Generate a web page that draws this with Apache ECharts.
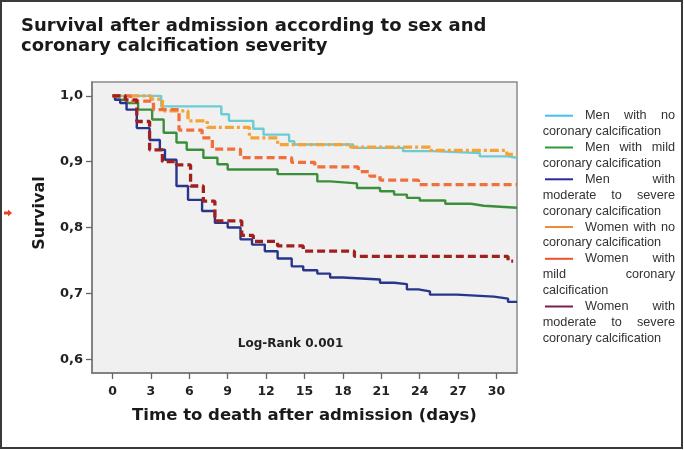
<!DOCTYPE html>
<html>
<head>
<meta charset="utf-8">
<script src="https://cdn.jsdelivr.net/npm/echarts@6/dist/echarts.min.js"></script>
<style>
  html, body { margin: 0; padding: 0; background: #fff; }
  #chart { width: 684px; height: 450px; }
</style>
</head>
<body>
<div id="chart"></div>
<script>
// Kaplan-Meier step curves (days, survival)
const menNoT = [0, 3.8, 8.5, 9.1, 11.0, 11.8, 13.8, 14.2, 18.8, 22.7, 25.0, 28.7, 30.9, 31.6]
const menNoS = [1.0, 0.984, 0.972, 0.962, 0.950, 0.941, 0.931, 0.926, 0.921, 0.916, 0.913, 0.908, 0.906, 0.906]

const menMildT = [0, 0.2, 1.1, 2.0, 3.1, 4.0, 5.0, 5.8, 7.1, 8.2, 9.0, 12.9, 16.0, 17.0, 19.1, 20.9, 22.0, 23.0, 24.0, 26.0, 28.0, 29.0, 31.6]
const menMildS = [1.0, 0.994, 0.989, 0.979, 0.964, 0.944, 0.929, 0.918, 0.906, 0.896, 0.888, 0.881, 0.870, 0.867, 0.860, 0.855, 0.850, 0.845, 0.841, 0.836, 0.833, 0.830, 0.830]

const menSevT = [0, 0.2, 0.6, 1.1, 1.9, 2.9, 3.7, 4.1, 5.0, 5.9, 7.0, 8.0, 9.0, 10.0, 10.9, 11.9, 12.9, 14.0, 14.9, 16.0, 17.0, 18.0, 20.9, 22.0, 23.0, 23.9, 24.8, 26.9, 29.8, 30.9, 31.6]
const menSevS = [1.0, 0.994, 0.989, 0.979, 0.951, 0.933, 0.918, 0.903, 0.863, 0.842, 0.825, 0.807, 0.800, 0.782, 0.774, 0.764, 0.753, 0.741, 0.735, 0.730, 0.724, 0.721, 0.716, 0.714, 0.706, 0.703, 0.698, 0.695, 0.692, 0.687, 0.687]

const womenNoT = [0, 3.0, 3.9, 5.9, 7.4, 10.7, 12.9, 18.6, 24.8, 30.8, 31.6]
const womenNoS = [1.0, 0.995, 0.977, 0.962, 0.952, 0.936, 0.926, 0.922, 0.917, 0.911, 0.911]

const womenMildT = [0, 1.4, 3.2, 5.2, 7.0, 7.8, 10.0, 14.0, 15.8, 19.2, 20.1, 20.9, 23.9, 31.6]
const womenMildS = [1.0, 0.992, 0.979, 0.948, 0.936, 0.919, 0.906, 0.899, 0.892, 0.885, 0.878, 0.872, 0.865, 0.865]

const womenSevT = [0, 1.0, 1.9, 2.9, 3.9, 5.0, 6.1, 7.1, 8.0, 10.1, 11.0, 12.9, 14.9, 18.9, 30.9, 31.3]
const womenSevS = [1.0, 0.994, 0.961, 0.918, 0.900, 0.895, 0.863, 0.840, 0.810, 0.788, 0.779, 0.772, 0.764, 0.756, 0.749, 0.749]

const xTicks = [0, 3, 6, 9, 12, 15, 18, 21, 24, 27, 30]
const yTicks = [0.6, 0.7, 0.8, 0.9, 1.0]

const seriesNames = [
  'Men with no coronary calcification',
  'Men with mild coronary calcification',
  'Men with moderate to severe coronary calcification',
  'Women with no coronary calcification',
  'Women with mild coronary calcification',
  'Women with moderate to severe coronary calcification',
]
// legend text as wrapped in the picture
const legendLines = [
  ['Men with no', 'coronary calcification'],
  ['Men with mild', 'coronary calcification'],
  ['Men with', 'moderate to severe', 'coronary calcification'],
  ['Women with no', 'coronary calcification'],
  ['Women with', 'mild coronary', 'calcification'],
  ['Women with', 'moderate to severe', 'coronary calcification'],
]

const lineColors = ['#6ccbd3', '#3b8f3b', '#27358a', '#f2a33a', '#f0703c', '#a0201e']
const legendColors = ['#3fc2ee', '#2c9a3c', '#2a2aa0', '#f08a3a', '#f0502a', '#7a2050']

function pairs(t, s) {
  return t.map((v, i) => [v, s[i]])
}

const curves = [
  pairs(menNoT, menNoS),
  pairs(menMildT, menMildS),
  pairs(menSevT, menSevS),
  pairs(womenNoT, womenNoS),
  pairs(womenMildT, womenMildS),
  pairs(womenSevT, womenSevS),
]
const lineTypes = ['solid', 'solid', 'solid', [9, 3, 3, 3], [8, 4], [8, 4]]
const lineWidths = [2.4, 2.4, 2.4, 3.3, 3.3, 3.3]

const legendFont = '12.7px "Liberation Sans", Arial, sans-serif'
const measureCtx = document.createElement('canvas').getContext('2d')
measureCtx.font = legendFont

function legendGraphics() {
  const out = []
  const left = 542.7
  const firstLeft = 585
  const right = 675
  const lineH = 15.9
  let y = 115.7
  legendLines.forEach((lines, k) => {
    out.push({
      type: 'line',
      shape: { x1: 545, y1: y, x2: 573, y2: y },
      style: { stroke: legendColors[k], lineWidth: 2 },
    })
    lines.forEach((line, j) => {
      const x0 = j === 0 ? firstLeft : left
      const words = line.split(' ')
      const isLast = j === lines.length - 1 && j > 0
      if (isLast || words.length === 1) {
        out.push({ type: 'text', x: x0, y, style: { text: line, font: legendFont, fill: '#333', textVerticalAlign: 'middle' } })
      } else {
        const widths = words.map(w => measureCtx.measureText(w).width)
        const total = widths.reduce((a, b) => a + b, 0)
        const gap = (right - x0 - total) / (words.length - 1)
        let x = x0
        words.forEach((w, i) => {
          out.push({ type: 'text', x, y, style: { text: w, font: legendFont, fill: '#333', textVerticalAlign: 'middle' } })
          x += widths[i] + gap
        })
      }
      y += lineH
    })
  })
  return out
}

const chart = echarts.init(document.getElementById('chart'), null, { renderer: 'canvas' })

const option = {
  animation: false,
  backgroundColor: '#fff',
  title: {
    text: 'Survival after admission according to sex and\ncoronary calcification severity',
    left: 16,
    top: 11,
    textStyle: { fontFamily: 'DejaVu Sans', fontWeight: 'bold', fontSize: 18, lineHeight: 20, color: '#1a1a1a' },
  },
  grid: { left: 92, right: 167, top: 82, bottom: 77, show: true, backgroundColor: '#f0f0f0', borderColor: '#8a8a8a', borderWidth: 1.5 },
  xAxis: {
    type: 'value',
    min: -1.6,
    max: 31.6,
    name: 'Time to death after admission (days)',
    nameLocation: 'middle',
    nameGap: 34,
    nameTextStyle: { fontFamily: 'DejaVu Sans', fontWeight: 'bold', fontSize: 16.5, color: '#1a1a1a' },
    splitLine: { show: false },
    axisLine: { onZero: false, lineStyle: { color: '#777', width: 1.5 } },
    axisTick: { show: true, customValues: xTicks, length: 6, lineStyle: { color: '#666', width: 1.3 } },
    axisLabel: { customValues: xTicks, margin: 12, fontFamily: 'DejaVu Sans', fontWeight: 'bold', fontSize: 12.5, color: '#222' },
  },
  yAxis: {
    type: 'value',
    min: 0.579,
    max: 1.021,
    splitLine: { show: false },
    axisLine: { show: true, onZero: false, lineStyle: { color: '#777', width: 1.5 } },
    axisTick: { show: true, customValues: yTicks, length: 6, lineStyle: { color: '#666', width: 1.3 } },
    axisLabel: {
      customValues: yTicks,
      margin: 9,
      fontFamily: 'DejaVu Sans',
      fontWeight: 'bold',
      fontSize: 13,
      color: '#222',
      formatter: v => v.toFixed(1).replace('.', ','),
    },
  },
  series: curves.map((data, i) => ({
    name: seriesNames[i],
    type: 'line',
    step: 'end',
    symbol: 'none',
    data,
    lineStyle: { color: lineColors[i], width: lineWidths[i], type: lineTypes[i] },
    z: 2 + i,
  })),
  graphic: [
    {
      type: 'rect',
      shape: { x: 1, y: 1, width: 681, height: 447 },
      style: { fill: 'none', stroke: '#3a3a3a', lineWidth: 2 },
      silent: true,
    },
    {
      type: 'text',
      x: 40,
      y: 213,
      rotation: Math.PI / 2,
      style: { text: 'Survival', font: 'bold 16px "DejaVu Sans"', fill: '#1a1a1a', textAlign: 'center', textVerticalAlign: 'middle' },
    },
    {
      type: 'text',
      x: 290.5,
      y: 344,
      style: { text: 'Log-Rank 0.001', font: 'bold 12px "DejaVu Sans"', fill: '#222', textAlign: 'center', textVerticalAlign: 'middle' },
    },
    {
      type: 'polygon',
      shape: { points: [[4, 211.5], [8, 211.5], [8, 209.5], [12, 213], [8, 216.5], [8, 214.5], [4, 214.5]] },
      style: { fill: '#e8402a' },
    },
    ...legendGraphics(),
  ],
}

chart.setOption(option)
</script>
</body>
</html>
